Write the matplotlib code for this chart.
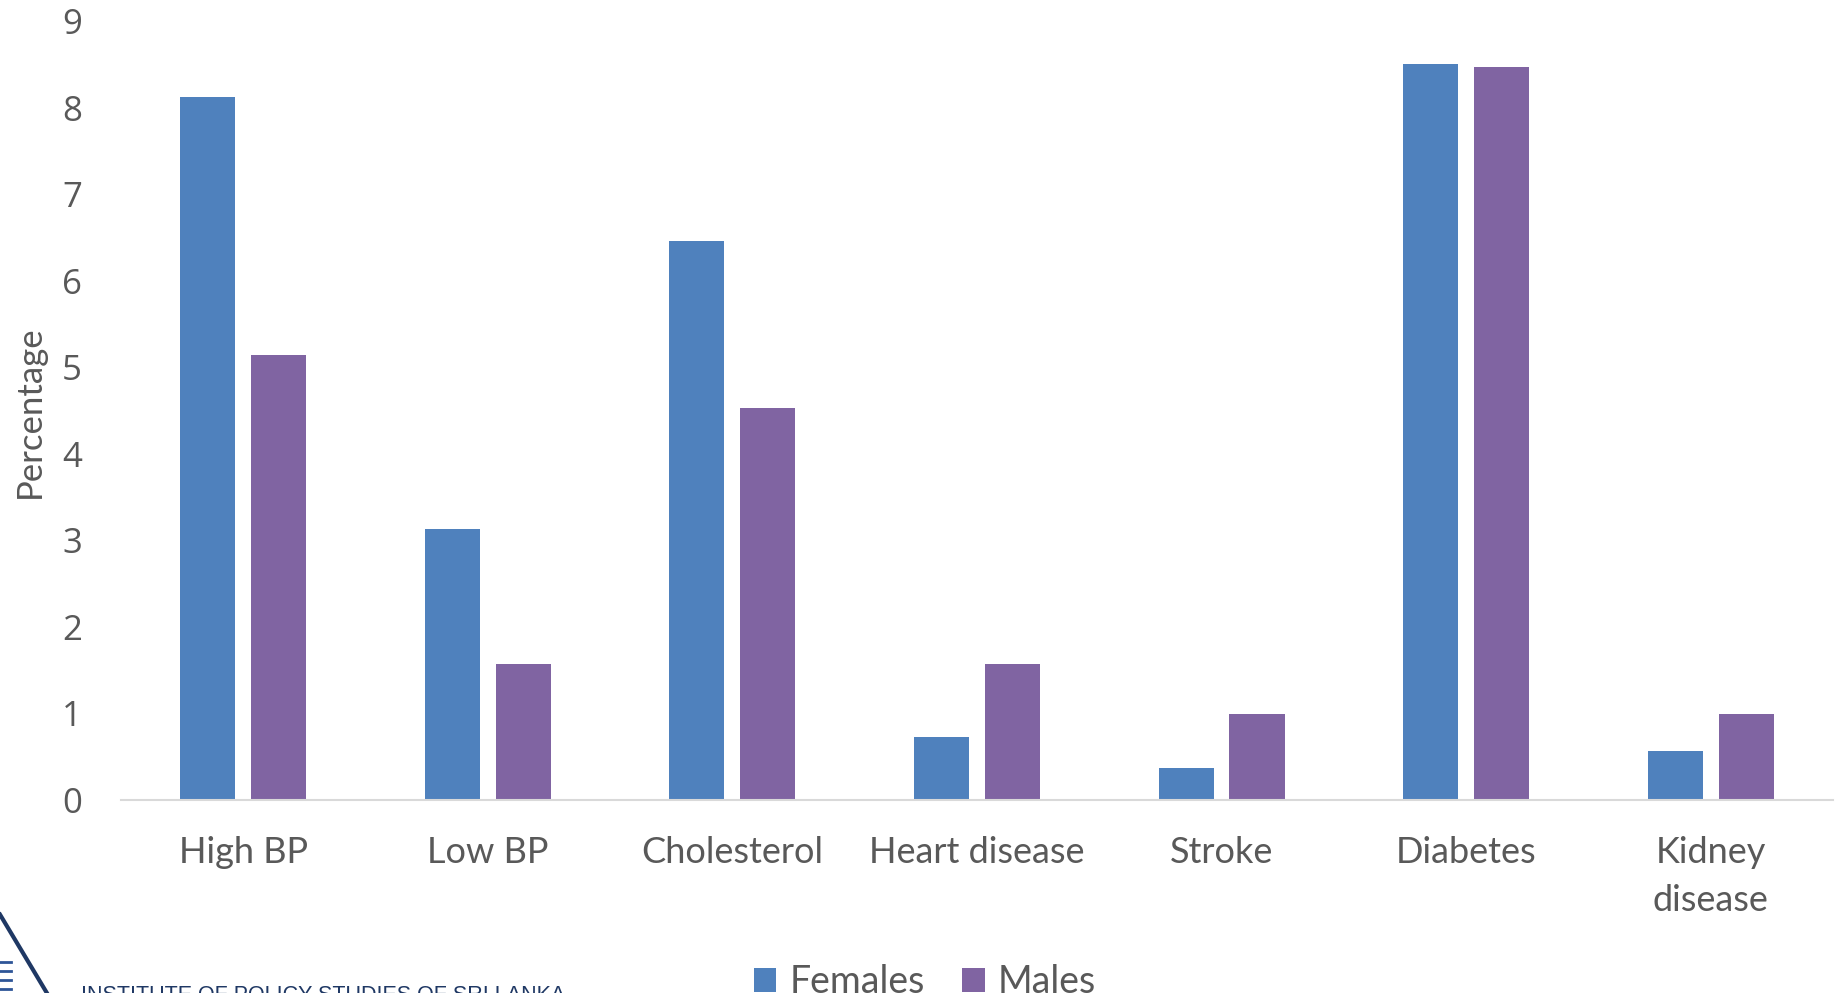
import matplotlib
matplotlib.use("Agg")
import matplotlib.pyplot as plt
import numpy as np

# prevalence of conditions by sex (%)
conditions = ["High BP", "Low BP", "Cholesterol", "Heart disease", "Stroke", "Diabetes", "Kidney\ndisease"]
females = [8.12, 3.13, 6.46, 0.73, 0.37, 8.50, 0.56]
males = [5.14, 1.57, 4.53, 1.57, 0.99, 8.47, 0.99]
yticks = [0, 1, 2, 3, 4, 5, 6, 7, 8, 9]

BLUE = "#4F81BD"
PURPLE = "#8064A2"
GREY = "#595959"

plt.rcParams['font.family'] = ['Lato', 'DejaVu Sans']

fig = plt.figure(figsize=(18.39, 9.93), dpi=100)
ax = fig.add_axes([0.0658, 0.1944, 0.9309, 0.7845])

x = np.arange(len(conditions))
w = 0.225
b1 = ax.bar(x - 0.145, females, w, color=BLUE, label="Females")
b2 = ax.bar(x + 0.145, males, w, color=PURPLE, label="Males")

ax.set_xlim(-0.5, len(conditions) - 0.5)
ax.set_ylim(0, 9)
ax.set_yticks(yticks)
ax.set_yticklabels([str(t) for t in yticks], family=['Open Sans', 'DejaVu Sans'],
                   fontsize=25, color=GREY)
ax.set_xticks(x)
ax.set_xticklabels(conditions, fontsize=26, color=GREY, linespacing=1.55)
ax.tick_params(axis='y', length=0, pad=28)
ax.tick_params(axis='x', length=0, pad=26)

for s in ["top", "right", "left"]:
    ax.spines[s].set_visible(False)
ax.spines["bottom"].set_color("#D9D9D9")
ax.spines["bottom"].set_linewidth(1.5)

fig.text(0.016, 0.585, "Percentage", rotation=90, ha="center", va="center",
         fontsize=25, color=GREY)

leg = fig.legend(handles=[b1, b2], loc="lower center", bbox_to_anchor=(0.503, -0.041),
                 ncol=2, frameon=False, fontsize=27, handlelength=0.6, handleheight=0.6,
                 handletextpad=0.35, columnspacing=1.0)
for t in leg.get_texts():
    t.set_color(GREY)

# institute mark in the bottom-left corner
fig.add_artist(plt.Line2D([0.0, 0.0255], [0.079, 0.0], color="#1F3864", lw=3))
for yy in [0.004, 0.013, 0.022, 0.031]:
    fig.add_artist(plt.Line2D([0.0, 0.006], [yy, yy], color="#2E5597", lw=2))
fig.text(0.044, -0.013, "INSTITUTE OF POLICY STUDIES OF SRI LANKA", fontsize=15.5,
         color="#1F3864", family=['Liberation Sans', 'DejaVu Sans'], va="bottom")

fig.savefig("out.png", dpi=100)
